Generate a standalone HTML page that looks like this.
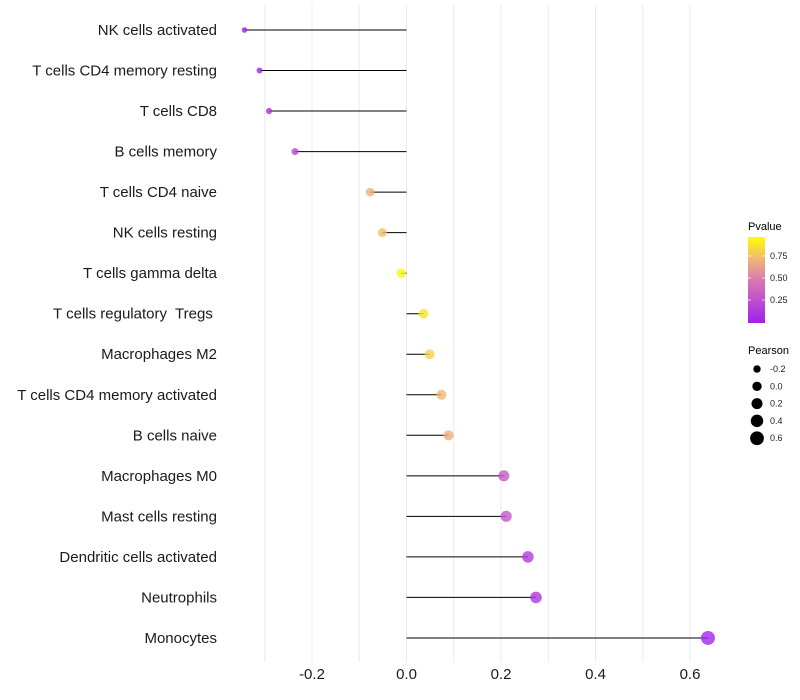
<!DOCTYPE html>
<html><head><meta charset="utf-8"><style>
body{margin:0;background:#fff;font-family:"Liberation Sans",Arial,sans-serif}
svg{display:block}
text{white-space:pre}
</style></head><body>
<svg id="chart" width="800" height="700" xmlns="http://www.w3.org/2000/svg">
<defs><linearGradient id="pg" x1="0" y1="1" x2="0" y2="0">
<stop offset="0" stop-color="#A020F0"/><stop offset="0.5" stop-color="#D87AB0"/><stop offset="0.75" stop-color="#F2B870"/><stop offset="1" stop-color="#FFFF00"/></linearGradient></defs>
<g id="grid"></g>
<g id="marks"></g>
<g id="ylabels"></g>
<g id="xlabels"></g>
<g>
<text x="748" y="230" font-size="11" fill="#000">Pvalue</text>
<rect x="748" y="237" width="17" height="86" fill="url(#pg)"/>
<g stroke="#fff" stroke-width="1" opacity="0.7"><line x1="748" y1="256" x2="751" y2="256"/><line x1="762" y1="256" x2="765" y2="256"/><line x1="748" y1="278" x2="751" y2="278"/><line x1="762" y1="278" x2="765" y2="278"/><line x1="748" y1="300" x2="751" y2="300"/><line x1="762" y1="300" x2="765" y2="300"/></g>
<g font-size="9" fill="#222"><text x="770" y="259">0.75</text><text x="770" y="281">0.50</text><text x="770" y="303">0.25</text></g>
</g>
<g id="sizeleg">
<text x="748" y="354" font-size="11" fill="#000">Pearson</text>
</g>
</svg>
<script>
const categories=["NK cells activated","T cells CD4 memory resting","T cells CD8","B cells memory","T cells CD4 naive","NK cells resting","T cells gamma delta","T cells regulatory  Tregs ","Macrophages M2","T cells CD4 memory activated","B cells naive","Macrophages M0","Mast cells resting","Dendritic cells activated","Neutrophils","Monocytes"];
const pearson=[-0.343,-0.311,-0.291,-0.236,-0.077,-0.051,-0.011,0.036,0.049,0.074,0.089,0.206,0.211,0.257,0.274,0.638];
const pvalue=[0.01,0.04,0.1,0.2,0.72,0.76,0.97,0.9,0.84,0.74,0.7,0.32,0.3,0.15,0.12,0.02];
const xTicks=[-0.2,0,0.2,0.4,0.6];
const xTickLabels=["-0.2","0.0","0.2","0.4","0.6"];
const sizeLegend=[-0.2,0,0.2,0.4,0.6];
const sizeLegendLabels=["-0.2","0.0","0.2","0.4","0.6"];
const NS="http://www.w3.org/2000/svg";
const x=v=>406.5+v*472.5;
const y=i=>30+i*40.53;
const r=v=>Math.sqrt(Math.max(1,22.1+42*v));
function mix(a,b,t){return a.map((c,k)=>Math.round(c+(b[k]-c)*t));}
function col(p){const st=[[0,[160,32,240]],[0.5,[216,122,176]],[0.75,[242,184,112]],[1,[255,255,0]]];
for(let k=1;k<st.length;k++){if(p<=st[k][0]){const t=(p-st[k-1][0])/(st[k][0]-st[k-1][0]);const c=mix(st[k-1][1],st[k][1],t);return `rgb(${c})`;}}return "rgb(255,255,0)";}
function mk(tag,at,parent){const e=document.createElementNS(NS,tag);for(const k in at)e.setAttribute(k,at[k]);parent.appendChild(e);return e;}
const grid=document.getElementById('grid');
for(let v=-0.3;v<=0.651;v+=0.1){const g=mk('line',{x1:x(v),x2:x(v),y1:5,y2:662,stroke:'#ebebeb','stroke-width':1},grid);

}
const marks=document.getElementById('marks');
const yl=document.getElementById('ylabels');
categories.forEach((c,i)=>{
 const s=mk('line',{x1:x(0),x2:x(pearson[i]),y1:y(i),y2:y(i),stroke:'#000','stroke-width':1},marks);
 
 
 const p=mk('circle',{cx:x(pearson[i]),cy:y(i),r:r(pearson[i]),fill:col(pvalue[i]),'fill-opacity':0.8},marks);
 
 
 const t=mk('text',{x:217,y:y(i)+5,'text-anchor':'end','font-size':15,fill:'#1a1a1a'},yl);
 t.textContent=c;
 
 
});
const xl=document.getElementById('xlabels');
xTicks.forEach((v,i)=>{const t=mk('text',{x:x(v),y:679,'text-anchor':'middle','font-size':15,fill:'#1a1a1a'},xl);
t.textContent=xTickLabels[i];

});
const sl=document.getElementById('sizeleg');
sizeLegend.forEach((v,i)=>{const cy=369+i*17.3;
const c=mk('circle',{cx:757,cy:cy,r:r(v),fill:'#000'},sl);


const t=mk('text',{x:770,y:cy+3,'font-size':9,fill:'#222'},sl);
t.textContent=sizeLegendLabels[i];

});
</script>
</body></html>
